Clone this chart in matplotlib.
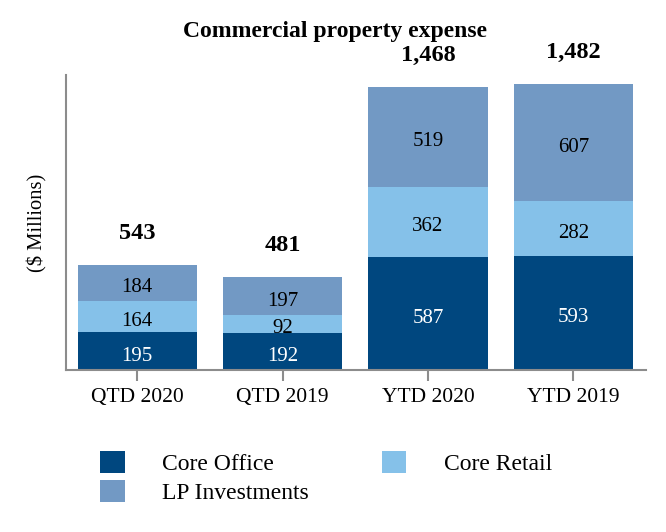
import matplotlib.pyplot as plt
import numpy as np

plt.rcParams['font.family'] = ['Liberation Serif', 'DejaVu Serif']

periods = ["QTD 2020", "QTD 2019", "YTD 2020", "YTD 2019"]
core_office = [195, 192, 587, 593]
core_retail = [164, 92, 362, 282]
lp_investments = [184, 197, 519, 607]
totals = ["543", "481", "1,468", "1,482"]

col_office = '#00477f'
col_retail = '#85c1e9'
col_lp = '#7299c4'

fig = plt.figure(figsize=(6.66, 5.32), dpi=100)
ax = fig.add_axes([0.099, 0.3045, 0.871, 0.5545])

x = np.arange(len(periods))
w = 0.82
office = np.array(core_office)
retail = np.array(core_retail)
lp = np.array(lp_investments)

b1 = ax.bar(x, office, w, color=col_office, label='Core Office')
b2 = ax.bar(x, retail, w, bottom=office, color=col_retail, label='Core Retail')
b3 = ax.bar(x, lp, w, bottom=office + retail, color=col_lp, label='LP Investments')

def seg_label(xi, yi, val, color):
    ax.annotate(str(val), (xi, yi), xytext=(0, -3.5), textcoords='offset points',
                ha='center', va='center', color=color, fontsize=15)

for i in range(len(x)):
    seg_label(x[i], office[i] / 2, office[i], 'white')
    seg_label(x[i], office[i] + retail[i] / 2, retail[i], 'black')
    seg_label(x[i], office[i] + retail[i] + lp[i] / 2, lp[i], 'black')
    top = office[i] + retail[i] + lp[i]
    ax.annotate(totals[i], (x[i], top), xytext=(0, 23), textcoords='offset points',
                ha='center', va='center', fontsize=17.5, fontweight='bold')

ax.set_xlim(-0.49, 3.5)
ax.set_ylim(0, 1530)
ax.set_xticks(x)
ax.set_xticklabels(periods, fontsize=15.5)
ax.set_yticks([])
for s in ['top', 'right']:
    ax.spines[s].set_visible(False)
for s in ['left', 'bottom']:
    ax.spines[s].set_color('#8c8c8c')
    ax.spines[s].set_linewidth(1.5)
ax.tick_params(axis='x', length=8, width=1.5, color='#8c8c8c', pad=5)
ax.set_ylabel("($ Millions)", fontsize=14.8, labelpad=13)

fig.text(0.503, 0.94, "Commercial property expense", ha='center', va='center',
         fontsize=17, fontweight='bold')

fig.legend([b1, b3, b2], ['Core Office', 'LP Investments', 'Core Retail'],
           loc='upper left', bbox_to_anchor=(0.150, 0.153), ncol=2, frameon=False,
           fontsize=17, handlelength=1.05, handleheight=1.1, handletextpad=1.6,
           columnspacing=3.07, labelspacing=0.2, borderpad=0, borderaxespad=0)

fig.savefig('out.png', dpi=100)
